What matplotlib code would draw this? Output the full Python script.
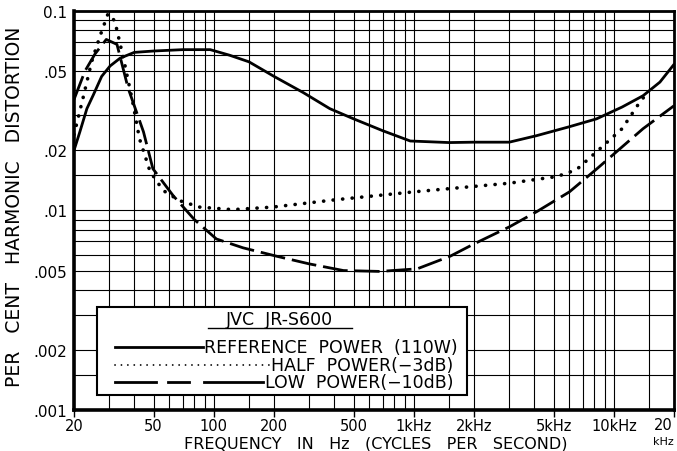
import matplotlib
matplotlib.use("Agg")
import matplotlib.pyplot as plt
from matplotlib.patches import Rectangle

# values (Hz, per cent THD)
freq_ref = [20, 21.4, 23.2, 25, 27.5, 30.3, 34, 40, 50, 70, 96, 120, 150, 200, 280, 380,
            500, 700, 960, 1500, 2000, 3000, 4100, 6000, 8200, 11000, 14000, 17000, 20000]
thd_ref = [0.020, 0.0248, 0.0324, 0.038, 0.047, 0.053, 0.058, 0.062, 0.063, 0.064, 0.064,
           0.060, 0.0556, 0.047, 0.039, 0.0324, 0.0288, 0.0251, 0.0223, 0.0219, 0.022,
           0.022, 0.0237, 0.0263, 0.0288, 0.033, 0.0376, 0.044, 0.054]

freq_half = [20, 22.1, 24.5, 27, 29.6, 32, 35.4, 39.3, 42.5, 48, 55.8, 67.5, 85, 124, 197,
             400, 1000, 3000, 5200, 6500, 8200, 11000, 13500, 15000]
thd_half = [0.024, 0.036, 0.0556, 0.075, 0.097, 0.089, 0.0575, 0.035, 0.0229, 0.0157, 0.0126,
            0.0112, 0.0104, 0.0101, 0.0104, 0.0113, 0.0124, 0.0137, 0.0148, 0.0160, 0.0197,
            0.0257, 0.035, 0.0398]

freq_low = [20, 22.7, 25.5, 29, 32.8, 37.3, 44.5, 49.6, 62.5, 80, 103, 140, 206, 300, 445,
            678, 1040, 1520, 2000, 3020, 4140, 6000, 8240, 14000, 20000]
thd_low = [0.036, 0.05, 0.061, 0.072, 0.068, 0.041, 0.0248, 0.0162, 0.0119, 0.009, 0.0072,
           0.0065, 0.0059, 0.0054, 0.0050, 0.00495, 0.0051, 0.0059, 0.0068, 0.0083, 0.0099,
           0.0124, 0.0162, 0.0257, 0.0335]

x_ticks = [20, 50, 100, 200, 500, 1000, 2000, 5000, 10000, 20000]
x_labels = ['20', '50', '100', '200', '500', '1kHz', '2kHz', '5kHz', '10kHz', '']
y_ticks = [0.1, 0.05, 0.02, 0.01, 0.005, 0.002, 0.001]
y_labels = ['0.1', '.05', '.02', '.01', '.005', '.002', '.001']
grid_steps = [1, 1.5, 2, 3, 4, 5, 6, 7, 8, 9]

legend_title = 'JVC  JR-S600'
legend_labels = ['REFERENCE  POWER  (110W)', 'HALF  POWER(−3dB)', 'LOW  POWER(−10dB)']

plt.rcParams['font.family'] = ['DejaVu Sans']
fig = plt.figure(figsize=(6.77, 4.52), dpi=100)
ax = fig.add_axes([0.1093, 0.0907, 0.8863, 0.8828])

ax.set_xscale('log')
ax.set_yscale('log')
ax.set_xlim(20, 20000)
ax.set_ylim(0.001, 0.1)

# graph-paper grid
xg = [s * 10 ** d for d in range(1, 5) for s in grid_steps]
yg = [s * 10 ** d for d in range(-3, -1) for s in grid_steps]
ax.set_xticks([v for v in xg if 20 <= v <= 20000], minor=True)
ax.set_yticks([v for v in yg if 0.001 <= v <= 0.1], minor=True)
ax.set_xticks(x_ticks)
ax.set_xticklabels(x_labels)
ax.set_yticks(y_ticks)
ax.set_yticklabels(y_labels)
ax.tick_params(which='both', length=0, labelsize=10.5)
ax.tick_params(axis='x', which='major', length=5, width=1, direction='out', pad=0.5)
ax.tick_params(axis='y', pad=5, labelsize=11)
ax.xaxis.set_minor_formatter(plt.NullFormatter())
ax.yaxis.set_minor_formatter(plt.NullFormatter())
ax.grid(which='both', color='black', linewidth=0.8)
for s in ax.spines.values():
    s.set_linewidth(2)
ax.spines['bottom'].set_linewidth(2.6)
ax.spines['left'].set_linewidth(2.6)

ax.plot(freq_ref, thd_ref, color='black', lw=2, solid_capstyle='round', zorder=3)
ax.plot(freq_half, thd_half, color='black', lw=2.6, linestyle=(0, (0.05, 2.6)),
        dash_capstyle='round', zorder=3)
ax.plot(freq_low, thd_low, color='black', lw=2, linestyle=(0, (9, 2.5)), zorder=3)

# last x label sits partly past the frame, with kHz beneath it
ax.text(0.982, -0.037, '20', transform=ax.transAxes, ha='center', va='center', fontsize=10.5)
ax.text(0.982, -0.077, 'kHz', transform=ax.transAxes, ha='center', va='center', fontsize=8)

fig.text(0.555, 0.001, 'FREQUENCY   IN   Hz   (CYCLES   PER   SECOND)', ha='center',
         va='bottom', fontsize=11.5)
fig.text(0.022, 0.542, 'PER   CENT   HARMONIC   DISTORTION', ha='center', va='center',
         rotation=90, fontsize=13.5)

# legend box drawn by hand, like the printed one
tr = ax.transAxes
box = Rectangle((0.038, 0.038), 0.617, 0.220, transform=tr,
                facecolor='white', edgecolor='black', lw=1.5, zorder=5)
ax.add_patch(box)
ax.text(0.343, 0.229, legend_title, transform=tr, ha='center', va='center',
        fontsize=12.5, zorder=6)
ax.plot([0.223, 0.463], [0.205, 0.205], color='black', lw=1, transform=tr, zorder=6)

row_y = [0.158, 0.113, 0.070]
row_end = [0.640, 0.632, 0.632]
texts = [ax.text(row_end[i], row_y[i], legend_labels[i], transform=tr, ha='right',
                 va='center', fontsize=12.5, zorder=6) for i in range(3)]
fig.canvas.draw()
inv = tr.inverted()
starts = [inv.transform((t.get_window_extent().x0, 0))[0] - 0.003 for t in texts]

x0 = 0.068
ax.plot([x0, starts[0]], [row_y[0]] * 2, color='black', lw=2, transform=tr, zorder=6)
ax.plot([x0, starts[1]], [row_y[1]] * 2, color='black', lw=1.3,
        linestyle=(0, (0.05, 3.5)), dash_capstyle='round', transform=tr, zorder=6)
seg = (starts[2] - x0)
for a, b in [(0.0, 0.28), (0.36, 0.5), (0.6, 1.0)]:
    ax.plot([x0 + a * seg, x0 + b * seg], [row_y[2]] * 2, color='black', lw=2,
            transform=tr, zorder=6)

fig.savefig('out.png', dpi=100)
